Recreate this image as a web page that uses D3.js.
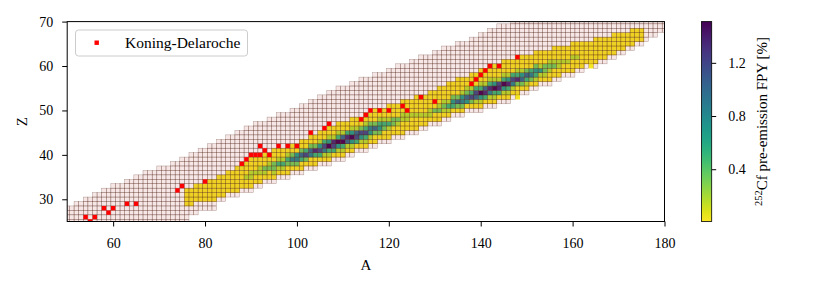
<!DOCTYPE html>
<html lang="en">
<head>
<meta charset="UTF-8">
<title>252Cf pre-emission FPY</title>
<script src="https://d3js.org/d3.v7.min.js"></script>
<style>
    html, body{
        margin:0;
        background:#fff;
    }
    svg text{
        font-family: "Liberation Serif", "DejaVu Serif", serif;
        fill:#000;
    }
    .axis line{
        stroke:#000;
    }
</style>
</head>
<body>
<div id="chart"></div>
<script>
    // mass numbers shown on the chart
    var aFirst = 50, aLast = 180;

    // grey-pink nuclide band: lowest and highest Z for each A = 50..180
    var bgLo = [
        25,25,25,25,25,25,25,25,25,25,
        25,25,25,25,25,25,25,25,25,25,
        25,25,25,25,25,25,25,27,27,28,
        28,28,28,30,30,31,31,31,32,32,
        32,33,33,34,34,34,35,35,35,36,
        36,36,37,37,37,38,38,38,39,39,
        39,40,40,41,41,41,42,42,43,43,
        43,44,44,44,45,45,45,46,46,47,
        47,47,48,48,49,49,49,50,50,50,
        50,51,51,51,52,52,52,53,54,54,
        54,55,55,56,56,56,57,57,58,58,
        58,59,59,60,61,60,61,61,62,62,
        63,63,64,64,65,65,66,67,67,68,
        68];
    var bgHi = [
        28,28,29,29,30,30,31,31,32,32,
        33,33,33,34,34,35,35,36,36,36,
        37,37,37,38,38,39,39,40,40,41,
        41,42,42,43,43,44,44,45,45,46,
        46,47,47,47,48,48,49,49,49,50,
        50,51,51,52,52,53,53,54,54,55,
        55,55,56,56,57,57,57,58,58,58,
        59,59,60,60,60,61,61,62,62,62,
        63,63,64,64,64,65,65,65,66,66,
        67,67,68,68,69,69,69,70,70,70,
        70,70,70,70,70,70,70,70,70,70,
        70,70,70,70,70,70,70,70,70,70,
        70,70,70,70,70,70,70,70,70,70,
        70];

    // pre-emission FPY, A = 76..175: lowest Z of each column and
    // colour level of each cell from that Z upward (value = level * levelStep)
    var fpyFirst = 76;
    var levelStep = 0.167;
    var fpyLo = [
        29,29,30,30,30,30,30,31,31,32,
        32,32,33,33,33,34,34,35,35,35,
        36,36,36,37,37,37,38,38,38,39,
        39,39,40,40,40,41,41,42,42,42,
        43,43,44,44,44,45,45,45,46,46,
        46,47,47,48,48,48,49,49,50,50,
        50,51,51,51,51,52,52,52,53,53,
        53,54,53,55,55,56,56,57,57,57,
        58,58,59,59,59,60,60,61,60,61,
        62,62,63,63,64,64,65,65,66,66];
    var fpyLevels = [
        "0000","0000","0000","0000","0000","00000","00000","00000","00000","00000",
        "00000","000000","00000","001000","0011000","001000","001100","012000","002100","0122000",
        "013100","013100","002310","025200","025400","0036200","027300","0056200","0038200","0374100",
        "0157300","01394100","0378100","01493100","01396100","0168300","01494100","0376100","0147200","01373100",
        "0145200","00262000","0243100","0023100","00131000","0022000","0012000","00011000","0011000","0001000",
        "00010000","0010000","0010000","0110000","0020000","00210000","0121000","01310000","0342000","02620000",
        "02541000","0462100","02731000","01673000","014931000","03861000","015831000","013941000","03871000","014931000",
        "013841000","01573000","0002831000","02641000","01362000","0253000","01342000","0141000","0122000","0012100",
        "0021000","0011000","001000","001000","0001000","001000","000000","00000","000000","000000",
        "00000","00000","0000","00000","0000","0000","000","0000","000","000"];

    // Koning-Delaroche points
    var kdA = [54,55,56,58,59,60,63,65,74,75,80,88,89,90,91,92,92,93,94,96,98,100,103,106,107,
               114,115,116,118,120,123,124,127,130,138,139,140,141,142,144,148];
    var kdZ = [26,25,26,28,27,28,29,29,32,33,34,38,39,40,40,40,42,41,40,42,42,42,45,46,47,
               48,49,50,50,50,51,50,53,52,56,57,58,59,60,60,62];

    var xTicks = [60,80,100,120,140,160,180];
    var yTicks = [30,40,50,60,70];
    var cbTicks = [0.4,0.8,1.2];
    var cbMin = 0.007, cbMax = 1.51;

    var plot = {left:67.2, right:664.5, top:21.6, bottom:221.5};
    var bar = {left:701.5, right:711.7};

    var x = d3.scaleLinear().domain([50,180]).range([plot.left, plot.right]);
    var y = d3.scaleLinear().domain([25,70]).range([plot.bottom, plot.top]);
    var cb = d3.scaleLinear().domain([cbMin, cbMax]).range([plot.bottom, plot.top]);
    var colour = function(v){ return d3.interpolateViridis(1 - Math.min(v, cbMax) / cbMax); };

    var svg = d3.select("#chart").append("svg")
        .attr("width", 830)
        .attr("height", 288);

    svg.append("clipPath")
        .attr("id", "plot-clip")
        .append("rect")
        .attr("x", plot.left)
        .attr("y", plot.top)
        .attr("width", plot.right - plot.left)
        .attr("height", plot.bottom - plot.top);

    var g = svg.append("g").attr("clip-path", "url(#plot-clip)");

    // build the cell lists
    var fpyCells = [];
    fpyLevels.forEach(function(s, j){
        for (var k = 0; k < s.length; k++){
            var lev = +s[k];
            fpyCells.push({a: fpyFirst + j, z: fpyLo[j] + k, v: lev === 0 ? 0.02 : lev * levelStep});
        }
    });
    var bgCells = [];
    for (var i = 0; i <= aLast - aFirst; i++){
        for (var z = bgLo[i]; z <= bgHi[i]; z++) bgCells.push({a: aFirst + i, z: z});
    }

    function cellX(d){ return x(d.a - 0.5); }
    function cellY(d){ return y(d.z + 0.5); }
    var cw = x(1) - x(0), ch = y(0) - y(1);

    g.selectAll("rect.fpy")
        .data(fpyCells)
        .enter().append("rect")
        .attr("class", "fpy")
        .attr("x", cellX)
        .attr("y", cellY)
        .attr("width", cw + 0.2)
        .attr("height", ch + 0.2)
        .attr("fill", function(d){ return colour(d.v); });

    // nuclide overlay, drawn on top with a light tint and thin edges
    g.selectAll("rect.bg")
        .data(bgCells)
        .enter().append("rect")
        .attr("class", "bg")
        .attr("x", cellX)
        .attr("y", cellY)
        .attr("width", cw)
        .attr("height", ch)
        .attr("fill", "rgb(180,60,50)")
        .attr("fill-opacity", 0.12)
        .attr("stroke", "rgb(80,35,25)")
        .attr("stroke-opacity", 0.45)
        .attr("stroke-width", 0.5);

    var ms = 4.4;
    g.selectAll("rect.kd")
        .data(kdA)
        .enter().append("rect")
        .attr("class", "kd")
        .attr("x", function(d){ return x(d) - ms / 2; })
        .attr("y", function(d, i){ return y(kdZ[i]) - ms / 2; })
        .attr("width", ms)
        .attr("height", ms)
        .attr("fill", "#ff0000");

    // axes
    var xAxis = svg.append("g")
        .attr("class", "axis")
        .attr("transform", "translate(0," + plot.bottom + ")")
        .call(d3.axisBottom(x).tickValues(xTicks).tickSize(5).tickPadding(11.5).tickFormat(d3.format("d")));
    xAxis.select(".domain").remove();
    xAxis.selectAll("text").style("font-size", "14px").style("font-family", "Liberation Serif");

    var yAxis = svg.append("g")
        .attr("class", "axis")
        .attr("transform", "translate(" + plot.left + ",0)")
        .call(d3.axisLeft(y).tickValues(yTicks).tickSize(5).tickPadding(9).tickFormat(d3.format("d")));
    yAxis.select(".domain").remove();
    yAxis.selectAll("text").style("font-size", "14px").style("font-family", "Liberation Serif");

    svg.append("rect")
        .attr("x", plot.left)
        .attr("y", plot.top)
        .attr("width", plot.right - plot.left)
        .attr("height", plot.bottom - plot.top)
        .attr("fill", "none")
        .attr("stroke", "#000")
        .attr("stroke-width", 1);

    svg.append("text")
        .attr("x", (plot.left + plot.right) / 2)
        .attr("y", 270)
        .attr("text-anchor", "middle")
        .style("font-size", "15px")
        .text("A");

    svg.append("text")
        .attr("transform", "translate(27," + (plot.top + plot.bottom) / 2 + ") rotate(-90)")
        .attr("text-anchor", "middle")
        .style("font-size", "15px")
        .text("Z");

    // legend
    var leg = svg.append("g");
    leg.append("rect")
        .attr("x", 75.5)
        .attr("y", 30)
        .attr("width", 172)
        .attr("height", 26)
        .attr("rx", 3)
        .attr("fill", "#fff")
        .attr("fill-opacity", 0.8)
        .attr("stroke", "#cccccc");
    leg.append("rect")
        .attr("x", 96.7 - ms / 2)
        .attr("y", 42.7 - ms / 2)
        .attr("width", ms)
        .attr("height", ms)
        .attr("fill", "#ff0000");
    leg.append("text")
        .attr("x", 125)
        .attr("y", 47.5)
        .style("font-size", "15.5px")
        .text("Koning-Delaroche");

    // colour bar
    var grad = svg.append("defs").append("linearGradient")
        .attr("id", "cb-grad")
        .attr("x1", 0).attr("y1", 1).attr("x2", 0).attr("y2", 0);
    d3.range(0, 1.0001, 0.05).forEach(function(t){
        var v = cbMin + t * (cbMax - cbMin);
        grad.append("stop").attr("offset", t).attr("stop-color", colour(v));
    });
    svg.append("rect")
        .attr("x", bar.left)
        .attr("y", plot.top)
        .attr("width", bar.right - bar.left)
        .attr("height", plot.bottom - plot.top)
        .attr("fill", "url(#cb-grad)")
        .attr("stroke", "#000")
        .attr("stroke-width", 0.8);

    var cbAxis = svg.append("g")
        .attr("class", "axis")
        .attr("transform", "translate(" + bar.right + ",0)")
        .call(d3.axisRight(cb).tickValues(cbTicks).tickSize(4.5).tickPadding(12).tickFormat(d3.format(".1f")));
    cbAxis.select(".domain").remove();
    cbAxis.selectAll("text").style("font-size", "14px").style("font-family", "Liberation Serif");

    var cbLabel = svg.append("text")
        .attr("transform", "translate(767," + (plot.top + plot.bottom) / 2 + ") rotate(-90)")
        .attr("text-anchor", "middle")
        .style("font-size", "15px");
    cbLabel.append("tspan").attr("dy", -5).style("font-size", "10.5px").text("252");
    cbLabel.append("tspan").attr("dy", 5).text("Cf pre-emission FPY [%]");
</script>
</body>
</html>
